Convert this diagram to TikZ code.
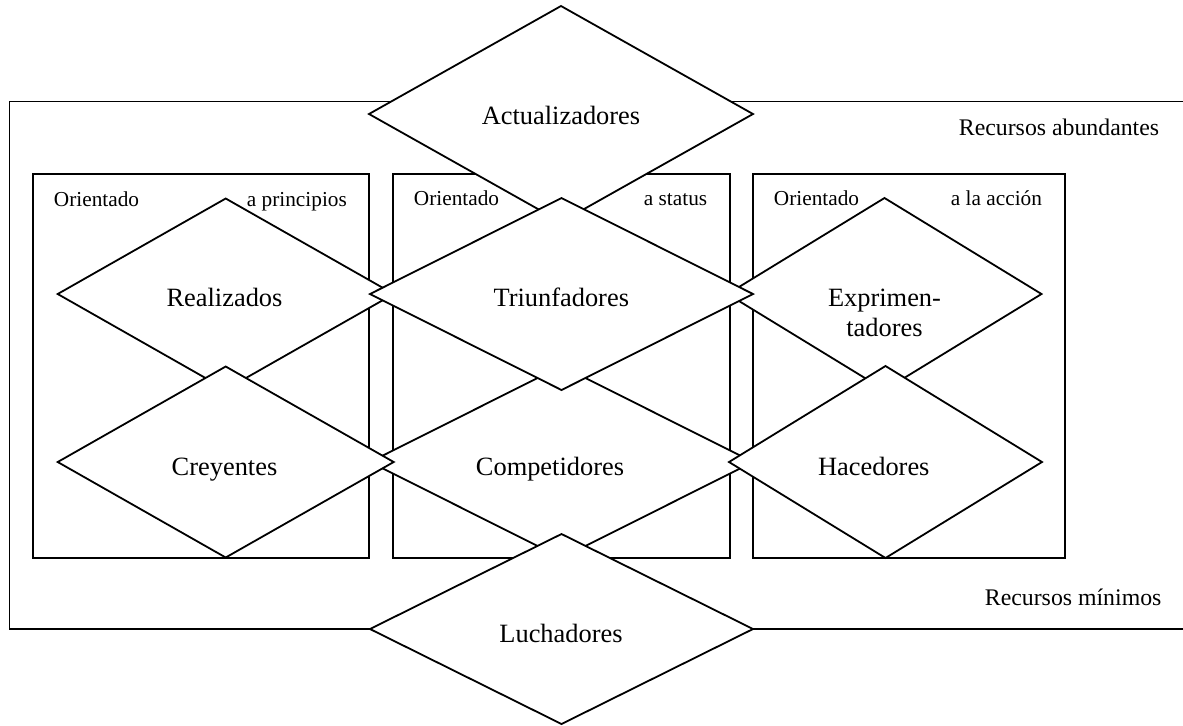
\documentclass[tikz,border=0pt]{standalone}
\usepackage{fontspec}
\setmainfont{Liberation Serif}
\usetikzlibrary{shapes.geometric}
\tikzset{
  dia/.style={draw, shape=diamond, fill=white, inner sep=0pt, outer sep=0pt, line join=miter},
  big/.style={font=\fontsize{13.2}{15.8}\selectfont, inner sep=0pt, anchor=base},
  small/.style={font=\fontsize{10.65}{12.8}\selectfont, inner sep=0pt, anchor=base west},
  res/.style={font=\fontsize{11.9}{14.3}\selectfont, inner sep=0pt, anchor=base west},
  frame/.style={draw}
}
\begin{document}
\begin{tikzpicture}[x=0.5pt,y=-0.5pt,line width=0.9pt]
\useasboundingbox (0,0) rectangle (1183,725);
% outer frame (open on the right, runs off the page)
\draw[frame] (1183,101.5) -- (9.5,101.5) -- (9.5,629) -- (1183,629);
% three orientation boxes
\draw[frame] (33,174) rectangle (369,558);
\draw[frame] (393,174) rectangle (730,558);
\draw[frame] (753,174) rectangle (1065,558);
% box labels
\node[small] (o1) at (53,206) {Orientado};
\node[small] (p1) at (246,206) {a principios};
\node[small] (o2) at (413,205.5) {Orientado};
\node[small] (p2) at (643,205.5) {a status};
\node[small] (o3) at (773,205.5) {Orientado};
\node[small] (p3) at (950,205.5) {a la acción};
\node[res] (rA) at (958,135) {Recursos abundantes};
\node[res] (rM) at (984,605) {Recursos mínimos};
% diamonds (drawing order gives the overlaps)
\node[dia, minimum width=192pt, minimum height=108pt] (act) at (561,114) {};
\node[dia, minimum width=168pt, minimum height=95.5pt] (rea) at (225.7,294) {};
\node[dia, minimum width=157pt, minimum height=96pt] (exp) at (884.5,294) {};
\node[dia, minimum width=191.5pt, minimum height=96pt] (com) at (561.5,462) {};
\node[dia, minimum width=191.5pt, minimum height=96pt] (tri) at (561.5,294) {};
\node[dia, minimum width=168pt, minimum height=95.5pt] (cre) at (225.7,462) {};
\node[dia, minimum width=156.5pt, minimum height=96pt] (hac) at (885.5,462) {};
\node[dia, minimum width=191.5pt, minimum height=95pt] (luc) at (561.5,629) {};
% diamond labels
\node[big] (tAct) at (561,124) {Actualizadores};
\node[big] (tTri) at (561.3,306.5) {Triunfadores};
\node[big] (tRea) at (224.5,306.5) {Realizados};
\node[big] (tExp1) at (884.5,306.5) {Exprimen-};
\node[big] (tExp2) at (884.5,336.5) {tadores};
\node[big] (tCre) at (224.5,475) {Creyentes};
\node[big] (tCom) at (550,475) {Competidores};
\node[big] (tHac) at (873.8,475) {Hacedores};
\node[big] (tLuc) at (561,642.5) {Luchadores};
\end{tikzpicture}
\end{document}
